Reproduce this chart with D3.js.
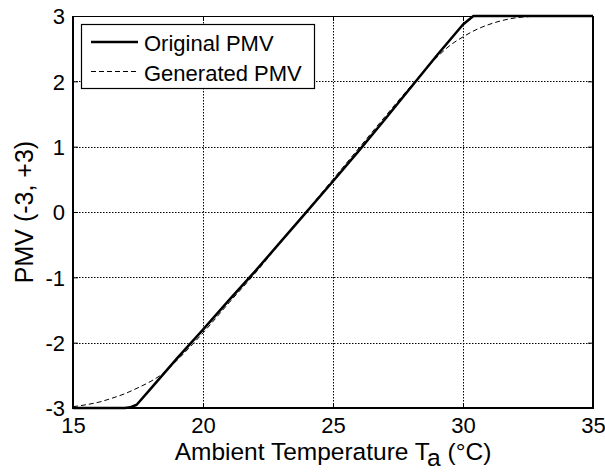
<!DOCTYPE html>
<html>
<head>
<meta charset="utf-8">
<script src="https://cdn.jsdelivr.net/npm/d3@7"></script>
<style>
  html, body { margin: 0; padding: 0; background: #fff; }
  svg { display: block; font-family: "Liberation Sans", Arial, Helvetica, sans-serif; }
</style>
</head>
<body>
<svg id="chart" width="605" height="472"></svg>
<script>
// ---- data ----
const xTicks = [15, 20, 25, 30, 35];
const yTicks = [-3, -2, -1, 0, 1, 2, 3];

const tempOriginal = [15, 16, 17, 17.2, 17.45, 18, 19, 20, 21, 22, 23, 24, 25, 26, 27, 28, 29, 30, 30.4, 31, 32, 33, 34, 35];
const pmvOriginal  = [-3, -3, -3, -2.99, -2.95, -2.7, -2.24, -1.8, -1.35, -0.91, -0.45, 0.01, 0.47, 0.94, 1.42, 1.91, 2.4, 2.87, 3, 3, 3, 3, 3, 3];

const tempGenerated = [15, 15.5, 16, 16.5, 17, 17.5, 18, 18.5, 19, 20, 21, 22, 23, 24, 25, 26, 27, 28, 29, 29.5, 30, 30.5, 31, 31.5, 32, 32.5, 33, 34, 35];
const pmvGenerated  = [-2.98, -2.95, -2.91, -2.85, -2.78, -2.69, -2.59, -2.46, -2.27, -1.85, -1.39, -0.94, -0.46, 0.02, 0.5, 0.98, 1.46, 1.93, 2.37, 2.55, 2.68, 2.79, 2.87, 2.93, 2.97, 2.99, 3, 3, 3];

const seriesNames = ["Original PMV", "Generated PMV"];
const xLabel = "Ambient Temperature T";
const xLabelSub = "a";
const xLabelTail = " (°C)";
const yLabel = "PMV (-3, +3)";

// ---- layout ----
const W = 605, H = 472;
const m = { left: 73, top: 16, right: 12, bottom: 64 };
const svg = d3.select("#chart");

const x = d3.scaleLinear().domain([15, 35]).range([m.left, W - m.right]);
const y = d3.scaleLinear().domain([-3, 3]).range([H - m.bottom, m.top]);
const [x0, x1] = x.range();
const [y0, y1] = y.range(); // y0 bottom, y1 top

// grid
const grid = svg.append("g").attr("stroke", "#000").attr("stroke-width", 1).attr("stroke-dasharray", "1.5,1.5");
grid.selectAll("line.v").data(xTicks.slice(1, -1)).join("line")
  .attr("x1", d => Math.round(x(d)) + 0.5).attr("x2", d => Math.round(x(d)) + 0.5)
  .attr("y1", y1).attr("y2", y0);
grid.selectAll("line.h").data(yTicks.slice(1, -1)).join("line")
  .attr("y1", d => Math.round(y(d)) + 0.5).attr("y2", d => Math.round(y(d)) + 0.5)
  .attr("x1", x0).attr("x2", x1);

// axes via d3 (inward ticks)
const tickFont = 22;
const xAxis = svg.append("g").attr("transform", `translate(0,${y0})`)
  .call(d3.axisBottom(x).tickValues(xTicks).tickFormat(d => String(d)).tickSizeInner(-5).tickSizeOuter(0).tickPadding(9));
const yAxis = svg.append("g").attr("transform", `translate(${x0},0)`)
  .call(d3.axisLeft(y).tickValues(yTicks).tickFormat(d => String(d)).tickSizeInner(-5).tickSizeOuter(0).tickPadding(8));
const xAxisTop = svg.append("g").attr("transform", `translate(0,${y1})`)
  .call(d3.axisTop(x).tickValues(xTicks).tickFormat("").tickSizeInner(-5).tickSizeOuter(0));
const yAxisRight = svg.append("g").attr("transform", `translate(${x1},0)`)
  .call(d3.axisRight(y).tickValues(yTicks).tickFormat("").tickSizeInner(-5).tickSizeOuter(0));

[xAxis, yAxis, xAxisTop, yAxisRight].forEach(g => {
  g.select(".domain").remove();
  g.selectAll(".tick line").attr("stroke", "#000").attr("stroke-width", 1);
  g.selectAll(".tick text").attr("fill", "#000").attr("font-size", tickFont)
    .attr("font-family", "'Liberation Sans', Arial, sans-serif");
});
yAxis.selectAll(".tick text").attr("dy", "0.36em");

// frame
svg.append("line").attr("x1", x0).attr("x2", x1).attr("y1", y1 + 0.5).attr("y2", y1 + 0.5).attr("stroke", "#000").attr("stroke-width", 1.2);
svg.append("line").attr("x1", x1).attr("x2", x1).attr("y1", y1).attr("y2", y0 + 1).attr("stroke", "#000").attr("stroke-width", 2);
svg.append("line").attr("x1", x0).attr("x2", x0).attr("y1", y1).attr("y2", y0 + 1).attr("stroke", "#000").attr("stroke-width", 2);
svg.append("line").attr("x1", x0 - 1).attr("x2", x1 + 1).attr("y1", y0).attr("y2", y0).attr("stroke", "#000").attr("stroke-width", 2);

// lines
const origData = tempOriginal.map((t, i) => [t, pmvOriginal[i]]);
const genData = tempGenerated.map((t, i) => [t, pmvGenerated[i]]);

svg.append("path").datum(genData)
  .attr("fill", "none").attr("stroke", "#000").attr("stroke-width", 1)
  .attr("stroke-dasharray", "5,3")
  .attr("d", d3.line().x(d => x(d[0])).y(d => y(d[1])).curve(d3.curveMonotoneX));

svg.append("path").datum(origData)
  .attr("fill", "none").attr("stroke", "#000").attr("stroke-width", 2.5)
  .attr("stroke-linejoin", "round")
  .attr("d", d3.line().x(d => x(d[0])).y(d => y(d[1])));

// legend
const lg = svg.append("g");
lg.append("rect").attr("x", 81.5).attr("y", 24.5).attr("width", 233).attr("height", 64)
  .attr("fill", "#fff").attr("stroke", "#000").attr("stroke-width", 1.2);
const rows = [
  { name: seriesNames[0], ly: 42, ty: 51, w: 2.5, dash: null },
  { name: seriesNames[1], ly: 71.5, ty: 81, w: 1, dash: "5,3" }
];
rows.forEach(r => {
  const ln = lg.append("line").attr("x1", 91).attr("x2", 138).attr("y1", r.ly).attr("y2", r.ly)
    .attr("stroke", "#000").attr("stroke-width", r.w);
  if (r.dash) ln.attr("stroke-dasharray", r.dash);
  lg.append("text").attr("x", 144).attr("y", r.ty).attr("font-size", 22).attr("fill", "#000").text(r.name);
});

// axis labels
const xl = svg.append("text").attr("x", (x0 + x1) / 2).attr("y", 460).attr("text-anchor", "middle")
  .attr("font-size", 24.5).attr("fill", "#000");
xl.append("tspan").text(xLabel);
xl.append("tspan").attr("dy", 6).text(xLabelSub);
xl.append("tspan").attr("dy", -6).text(xLabelTail);

svg.append("text").attr("transform", `translate(33,${(y0 + y1) / 2}) rotate(-90)`)
  .attr("text-anchor", "middle").attr("font-size", 25).attr("fill", "#000").text(yLabel);
</script>
</body>
</html>
